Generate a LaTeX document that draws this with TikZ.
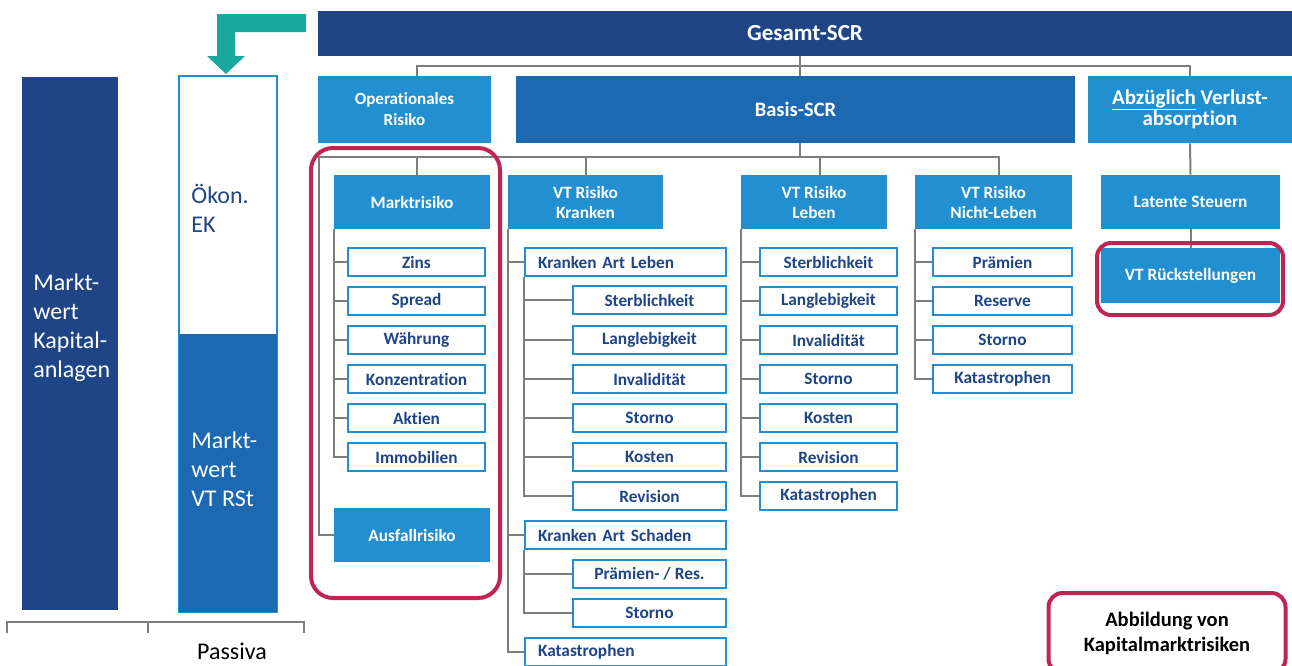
\documentclass[tikz,border=0pt]{standalone}
\usepackage{fontspec}
\setmainfont{Carlito}[Ligatures=CommonOff]
\definecolor{scrnavy}{RGB}{31,69,135}
\definecolor{scrmid}{RGB}{28,105,178}
\definecolor{scrlight}{RGB}{34,144,208}
\definecolor{scrteal}{RGB}{26,168,158}
\definecolor{markred}{RGB}{192,36,82}
\definecolor{conngray}{RGB}{125,125,125}
\tikzset{every picture/.style={line width=0.75pt}}
\tikzset{
  topbox/.style={fill=scrnavy, text=white, inner sep=0pt, align=center},
  mainbox/.style={fill=scrlight, text=white, inner sep=0pt, align=center, minimum height=54pt, font=\bfseries\fontsize{17.3}{20}\selectfont},
  subbox/.style={draw=scrlight, line width=2pt, fill=white, text=scrnavy, inner sep=0pt, minimum height=28pt, font=\bfseries\fontsize{17.3}{20}\selectfont},
  leftsub/.style={subbox, align=left, inner xsep=13pt, text width=175pt},
  conn/.style={draw=conngray, line width=2pt},
  markframe/.style={draw=markred, line width=4pt, rounded corners=22pt},
  bartext/.style={text=white, align=left, anchor=north west, inner sep=0pt, font=\fontsize{24}{29}\selectfont},
}

\begin{document}
\begin{tikzpicture}[x=1pt,y=1pt,yscale=-1,xscale=1]
    \useasboundingbox (0,0) rectangle (1292,665);
    % Bilanz
    \node [fill=scrnavy, minimum width=96pt, minimum height=533pt, inner sep=0pt] (aktiva) at (70,343.5) {};
    \node [draw=scrlight, line width=1.5pt, minimum width=98pt, minimum height=536pt, inner sep=0pt] (passiva) at (228,344) {};
    \node [fill=scrmid, minimum width=98pt, minimum height=278pt, inner sep=0pt, anchor=south] (vtrst) at (passiva.south) {};
    \node [bartext] (aktivatext) at (33,273) {Markt-\\wert\\Kapital-\\anlagen};
    \node [bartext, text=scrnavy] (ektext) at (191,184) {Ökon.\\EK};
    \node [bartext] (vtrsttext) at (191,431) {Markt-\\wert\\VT RSt};
    \node [font=\fontsize{24}{28}\selectfont, inner sep=0pt] (passivalabel) at (232,651) {Passiva};
    % Achse
    \draw [conngray, line width=1.5pt] (7,633) -- (7,622) -- (304,622) -- (304,633) (148,622) -- (148,633);
    % Pfeil
    \fill [scrteal] (306,14) -- (217,14) -- (217,56) -- (207,56) -- (226,74) -- (245,56) -- (235,56) -- (235,32) -- (306,32) -- cycle;
    % Text Node
    \node [topbox, minimum width=974pt, minimum height=45pt, font=\bfseries\fontsize{23}{26}\selectfont] (gesamt) at (805,33.5) {Gesamt-SCR};
    \node [mainbox, minimum width=173pt, minimum height=67pt, font=\bfseries\fontsize{17}{21}\selectfont] (oprisk) at (404.5,109.5) {Operationales\\Risiko};
    \node [topbox, fill=scrmid, minimum width=559pt, minimum height=67pt, font=\bfseries\fontsize{20.5}{24}\selectfont] (basis) at (795.5,109.5) {Basis-SCR};
    \node [mainbox, minimum width=204pt, minimum height=67pt, font=\bfseries\fontsize{21}{19}\selectfont] (abzug) at (1190,109.5) {\underline{Abzüglich} Verlust-\\absorption};
    % Marktrisiko
    \node [mainbox, minimum width=156pt] (markt) at (412,202) {Marktrisiko};
    \node [subbox, minimum width=137pt] (zins) at (416.5,262) {Zins};
    \node [subbox, minimum width=137pt] (spread) at (416.5,301) {Spread};
    \node [subbox, minimum width=137pt] (waehrung) at (416.5,340) {Währung};
    \node [subbox, minimum width=137pt] (konz) at (416.5,379) {Konzentration};
    \node [subbox, minimum width=137pt] (aktien) at (416.5,418) {Aktien};
    \node [subbox, minimum width=137pt] (immo) at (416.5,457) {Immobilien};
    \node [mainbox, minimum width=156pt] (ausfall) at (412,535) {Ausfallrisiko};
    % VT Risiko Kranken
    \node [mainbox, minimum width=155pt] (kranken) at (585.5,202) {VT Risiko\\Kranken};
    \node [leftsub] (krleben) at (625.5,262) {Kranken Art Leben};
    \node [subbox, minimum width=153pt] (krsterb) at (649.5,300) {Sterblichkeit};
    \node [subbox, minimum width=153pt] (krlangl) at (649.5,340) {Langlebigkeit};
    \node [subbox, minimum width=153pt] (krinval) at (649.5,379) {Invalidität};
    \node [subbox, minimum width=153pt] (krstorno) at (649.5,418) {Storno};
    \node [subbox, minimum width=153pt] (krkosten) at (649.5,457) {Kosten};
    \node [subbox, minimum width=153pt] (krrevis) at (649.5,496) {Revision};
    \node [leftsub] (krschaden) at (625.5,535) {Kranken Art Schaden};
    \node [subbox, minimum width=153pt] (krpraem) at (649.5,574) {Prämien- / Res.};
    \node [subbox, minimum width=153pt] (krsstorno) at (649.5,613) {Storno};
    \node [leftsub] (krkat) at (625.5,652) {Katastrophen};
    % VT Risiko Leben
    \node [mainbox, minimum width=146pt] (leben) at (814,202) {VT Risiko\\Leben};
    \node [subbox, minimum width=137pt] (lbsterb) at (828.5,262) {Sterblichkeit};
    \node [subbox, minimum width=137pt] (lblangl) at (828.5,301) {Langlebigkeit};
    \node [subbox, minimum width=137pt] (lbinval) at (828.5,340) {Invalidität};
    \node [subbox, minimum width=137pt] (lbstorno) at (828.5,379) {Storno};
    \node [subbox, minimum width=137pt] (lbkosten) at (828.5,418) {Kosten};
    \node [subbox, minimum width=137pt] (lbrevis) at (828.5,457) {Revision};
    \node [subbox, minimum width=137pt] (lbkat) at (828.5,496) {Katastrophen};
    % VT Risiko Nicht-Leben
    \node [mainbox, minimum width=157pt] (nicht) at (993.5,202) {VT Risiko\\Nicht-Leben};
    \node [subbox, minimum width=139pt] (nlpraem) at (1002.5,262) {Prämien};
    \node [subbox, minimum width=139pt] (nlres) at (1002.5,301) {Reserve};
    \node [subbox, minimum width=139pt] (nlstorno) at (1002.5,340) {Storno};
    \node [subbox, minimum width=139pt] (nlkat) at (1002.5,379) {Katastrophen};
    % Verlustabsorption
    \node [mainbox, minimum width=179pt] (latent) at (1190.5,202) {Latente Steuern};
    \node [mainbox, minimum width=179pt, minimum height=55pt] (vtrueck) at (1190.5,275.5) {VT Rückstellungen};
    % Connection
    \coordinate (gbus) at (800,66);
    \coordinate (bbus) at (800,157);
    \draw [conn] (gesamt.south -| gbus) -- (gbus);
    \draw [conn] ([xshift=12pt]oprisk.north) |- (gbus);
    \draw [conn] (basis.north -| gbus) -- (gbus);
    \draw [conn] (abzug.north) |- (gbus);
    \draw [conn] (basis.south -| bbus) -- (bbus);
    \draw [conn] ([xshift=5pt]markt.north) |- (bbus);
    \draw [conn] (ausfall.west) -- ++(-15,0) |- (bbus);
    \draw [conn] (kranken.north) |- (bbus);
    \draw [conn] ([xshift=6pt]leben.north) |- (bbus);
    \draw [conn] ([xshift=5.5pt]nicht.north) |- (bbus);
    % Connection
    \draw [conn] (markt.south west) |- (zins.west);
    \draw [conn] (markt.south west) |- (spread.west);
    \draw [conn] (markt.south west) |- (waehrung.west);
    \draw [conn] (markt.south west) |- (konz.west);
    \draw [conn] (markt.south west) |- (aktien.west);
    \draw [conn] (markt.south west) |- (immo.west);
    % Connection
    \draw [conn] (kranken.south west) |- (krleben.west);
    \draw [conn] (kranken.south west) |- (krschaden.west);
    \draw [conn] (kranken.south west) |- (krkat.west);
    \draw [conn] (krleben.south west) |- (krsterb.west);
    \draw [conn] (krleben.south west) |- (krlangl.west);
    \draw [conn] (krleben.south west) |- (krinval.west);
    \draw [conn] (krleben.south west) |- (krstorno.west);
    \draw [conn] (krleben.south west) |- (krkosten.west);
    \draw [conn] (krleben.south west) |- (krrevis.west);
    \draw [conn] (krschaden.south west) |- (krpraem.west);
    \draw [conn] (krschaden.south west) |- (krsstorno.west);
    % Connection
    \draw [conn] (leben.south west) |- (lbsterb.west);
    \draw [conn] (leben.south west) |- (lblangl.west);
    \draw [conn] (leben.south west) |- (lbinval.west);
    \draw [conn] (leben.south west) |- (lbstorno.west);
    \draw [conn] (leben.south west) |- (lbkosten.west);
    \draw [conn] (leben.south west) |- (lbrevis.west);
    \draw [conn] (leben.south west) |- (lbkat.west);
    % Connection
    \draw [conn] (nicht.south west) |- (nlpraem.west);
    \draw [conn] (nicht.south west) |- (nlres.west);
    \draw [conn] (nicht.south west) |- (nlstorno.west);
    \draw [conn] (nicht.south west) |- (nlkat.west);
    % Connection
    \draw [conn] (abzug.south) -- (latent.north);
    \draw [conn] (latent.south) -- (vtrueck.north);
    % Markierung
    \draw [markframe] (311,148) rectangle (500,598);
    \draw [markframe, rounded corners=14pt] (1097,243) rectangle (1283,315);
    \node [draw=markred, line width=4pt, rounded corners=14pt, fill=white, minimum width=237pt, minimum height=80pt, inner sep=0pt, align=center, font=\bfseries\fontsize{20.5}{25}\selectfont] (legende) at (1167,633) {Abbildung von\\Kapitalmarktrisiken};
\end{tikzpicture}
\end{document}
